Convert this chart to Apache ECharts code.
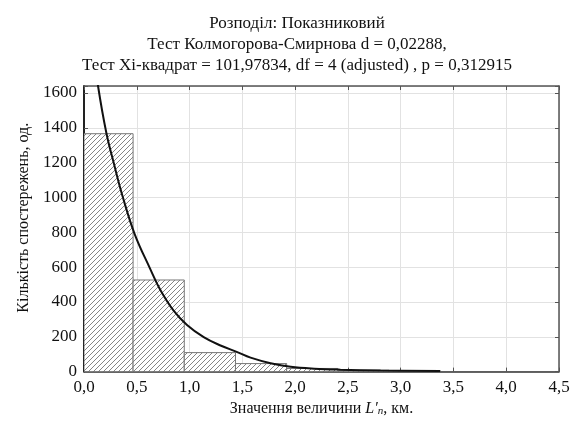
<!DOCTYPE html>
<html>
<head>
<meta charset="utf-8">
<script src="https://cdn.jsdelivr.net/npm/echarts@6/dist/echarts.min.js"></script>
<style>html,body{margin:0;padding:0;background:#fff;}#c{width:573px;height:422px;}</style>
</head>
<body>
<div id="c"></div>
<script>
// Histogram bins (start, end) and counts
const binStarts = [-0.02, 0.465, 0.95, 1.435, 1.92, 2.405, 2.89];
const binEnds   = [0.465, 0.95, 1.435, 1.92, 2.405, 2.89, 3.375];
const binCounts = [1366, 526, 109, 46, 18, 8, 4];
// Fitted curve points
const curveX = [0.0, 0.133, 0.212, 0.285, 0.364, 0.48, 0.627, 0.722, 0.849, 0.976, 1.134, 1.293, 1.452, 1.578, 1.768, 1.958, 2.18, 2.43, 2.81, 3.375];
const curveY = [2200, 1640, 1370, 1190, 1010, 790, 590, 470, 350, 268, 198, 150, 112, 80, 48, 28, 17, 11, 6, 3];
const xTicks = ['0,0','0,5','1,0','1,5','2,0','2,5','3,0','3,5','4,0','4,5'];
const yTicks = ['0','200','400','600','800','1000','1200','1400','1600'];
const titleLines = ['Розподіл: Показниковий', 'Тест Колмогорова-Смирнова d = 0,02288,', 'Тест Хі-квадрат = 101,97834, df = 4 (adjusted) , p = 0,312915'];

const FONT = "'Liberation Serif','Times New Roman',serif";

// hatch pattern
const s = 5;
const cv = document.createElement('canvas');
cv.width = s; cv.height = s;
const cx = cv.getContext('2d');
cx.fillStyle = '#fff'; cx.fillRect(0,0,s,s);
cx.strokeStyle = '#858585'; cx.lineWidth = 1;
cx.beginPath();
cx.moveTo(0, s); cx.lineTo(s, 0);
cx.moveTo(-1, 1); cx.lineTo(1, -1);
cx.moveTo(s-1, s+1); cx.lineTo(s+1, s-1);
cx.stroke();
const pattern = {image: cv, repeat: 'repeat'};

const barData = binStarts.map((b, i) => [b, binEnds[i], binCounts[i]]);
const curveData = curveX.map((x, i) => [x, curveY[i]]);

const chart = echarts.init(document.getElementById('c'), null, {renderer: 'canvas'});
const labelX = v => { const i = Math.round(v / 0.5); return xTicks[i] !== undefined && Math.abs(v - i*0.5) < 1e-6 ? xTicks[i] : ''; };
const labelY = v => { const i = Math.round(v / 200); return Math.abs(v - i*200) < 1e-6 && yTicks[i] !== undefined ? yTicks[i] : ''; };

chart.setOption({
  backgroundColor: '#fff',
  animation: false,
  title: {
    text: titleLines.join('\n'),
    left: 292, top: 8, textAlign: 'center',
    textStyle: {fontFamily: FONT, fontSize: 17, fontWeight: 'normal', color: '#111', lineHeight: 21}
  },
  grid: {left: 84, right: 14, top: 86, bottom: 49},
  xAxis: [{
    type: 'value', min: 0, max: 4.5, interval: 0.5, position: 'bottom',
    axisLine: {show: true, onZero: false, lineStyle: {color: '#333', width: 1.5}},
    axisTick: {show: true, inside: true, length: 4, lineStyle: {color: '#555'}},
    axisLabel: {formatter: labelX, fontFamily: FONT, fontSize: 17, color: '#111', margin: 7},
    splitLine: {show: true, lineStyle: {color: '#e2e2e2', width: 1}},
    name: 'Значення величини {i|L′}{sub|n}, км.',
    nameLocation: 'middle', nameGap: 28,
    nameTextStyle: {fontFamily: FONT, fontSize: 16, color: '#111',
      rich: {i: {fontFamily: FONT, fontSize: 16, fontStyle: 'italic', color: '#111'},
             sub: {fontFamily: FONT, fontSize: 11, fontStyle: 'italic', color: '#111', verticalAlign: 'bottom', padding: [6,0,0,0]}}}
  }, {
    type: 'value', min: 0, max: 4.5, interval: 0.5, position: 'top',
    axisLine: {show: true, onZero: false, lineStyle: {color: '#555', width: 1.5}},
    axisTick: {show: true, inside: true, length: 4, lineStyle: {color: '#555'}},
    axisLabel: {show: false}, splitLine: {show: false}
  }],
  yAxis: [{
    type: 'value', min: 0, max: 1640, interval: 200, position: 'left',
    axisLine: {show: true, onZero: false, lineStyle: {color: '#222', width: 2}},
    axisTick: {show: true, inside: true, length: 4, lineStyle: {color: '#555'}},
    axisLabel: {formatter: labelY, fontFamily: FONT, fontSize: 17, color: '#111', margin: 7},
    splitLine: {show: true, lineStyle: {color: '#e2e2e2', width: 1}},
    name: 'Кількість спостережень, од.',
    nameLocation: 'middle', nameGap: 45,
    nameTextStyle: {fontFamily: FONT, fontSize: 16, color: '#111', padding: [0, 0, 0, 22]}
  }, {
    type: 'value', min: 0, max: 1640, interval: 200, position: 'right',
    axisLine: {show: true, onZero: false, lineStyle: {color: '#555', width: 1.5}},
    axisTick: {show: true, inside: true, length: 4, lineStyle: {color: '#555'}},
    axisLabel: {show: false}, splitLine: {show: false}
  }],
  series: [{
    type: 'custom',
    xAxisIndex: 0, yAxisIndex: 0,
    data: barData,
    clip: true,
    renderItem: function (params, api) {
      const p0 = api.coord([api.value(0), api.value(2)]);
      const p1 = api.coord([api.value(1), 0]);
      const left = Math.max(p0[0], params.coordSys.x);
      return {
        type: 'rect',
        shape: {x: left, y: p0[1], width: p1[0] - left, height: p1[1] - p0[1]},
        style: {fill: pattern, stroke: '#777', lineWidth: 1}
      };
    },
    z: 2
  }, {
    type: 'line',
    xAxisIndex: 0, yAxisIndex: 0,
    data: curveData,
    smooth: 0.4,
    showSymbol: false,
    clip: true,
    lineStyle: {color: '#111', width: 2},
    z: 5
  }]
});
</script>
</body>
</html>
